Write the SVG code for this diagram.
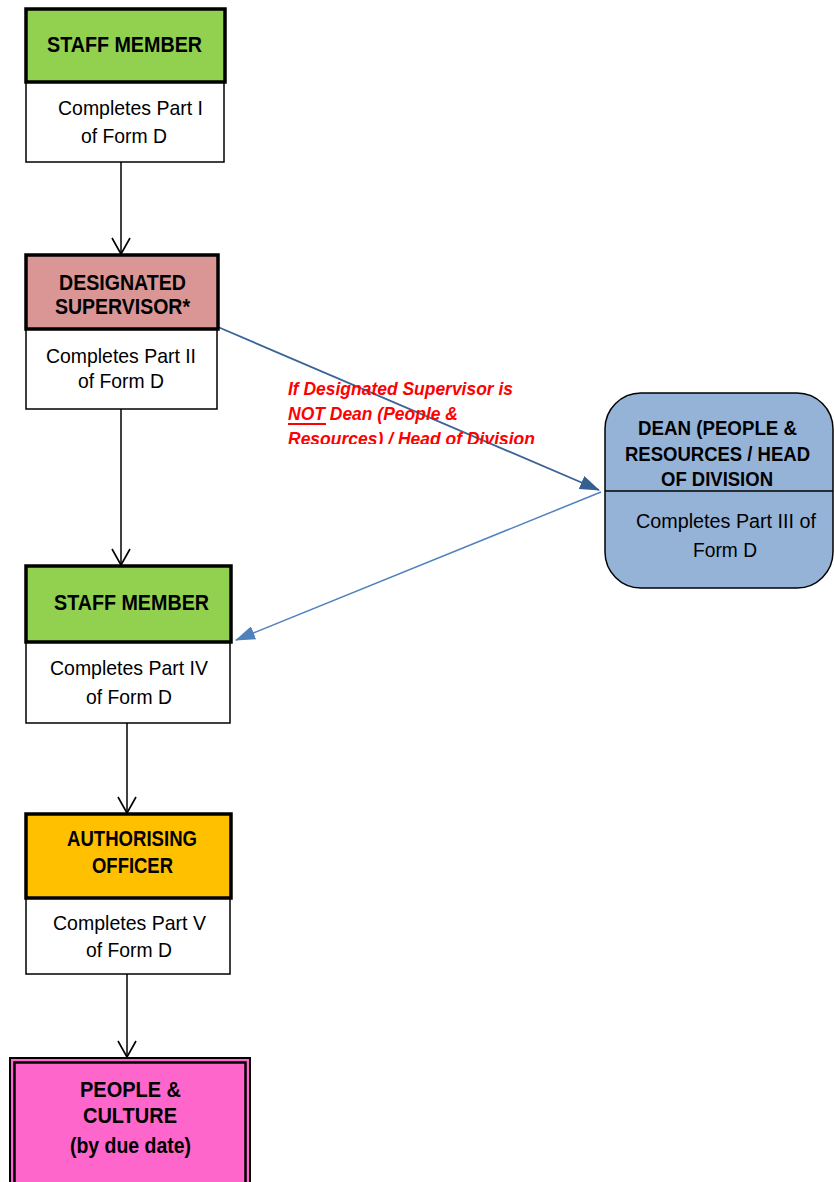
<svg xmlns="http://www.w3.org/2000/svg" width="834" height="1182" viewBox="0 0 834 1182">
<style>
.hd{stroke:#000;stroke-width:3.5}
.bd{fill:#fff;stroke:#000;stroke-width:1.5}
.t{font-family:"Liberation Sans",Arial,sans-serif;font-size:21px;fill:#000;text-anchor:start}
.b{font-weight:bold;font-size:22px}
.dn{font-size:20px}
.red{font-family:"Liberation Sans",Arial,sans-serif;font-size:18px;font-weight:bold;font-style:italic;fill:#FF0000}
.k{fill:none;stroke:#000;stroke-width:1.5}
</style>
<defs>
<marker id="vh" viewBox="0 0 20 20" refX="18" refY="10" markerWidth="20" markerHeight="20" markerUnits="userSpaceOnUse" orient="auto">
<path d="M2,1 L18,10 L2,19" fill="none" stroke="#000" stroke-width="1.6"/>
</marker>
<marker id="bh1" viewBox="0 0 20 14" refX="19" refY="7" markerWidth="20" markerHeight="14" markerUnits="userSpaceOnUse" orient="auto">
<path d="M0,0 L20,7 L0,14 Z" fill="#365F91"/>
</marker>
<marker id="bh2" viewBox="0 0 20 14" refX="19" refY="7" markerWidth="20" markerHeight="14" markerUnits="userSpaceOnUse" orient="auto">
<path d="M0,0 L20,7 L0,14 Z" fill="#4F81BD"/>
</marker>
<clipPath id="clipRed"><rect x="280" y="370" width="280" height="74"/></clipPath>
</defs>

<g id="connectors">
<line class="k" x1="121" y1="162" x2="121" y2="254" marker-end="url(#vh)"/>
<line class="k" x1="121" y1="409" x2="121" y2="565" marker-end="url(#vh)"/>
<line class="k" x1="127" y1="723" x2="127" y2="813" marker-end="url(#vh)"/>
<line class="k" x1="127" y1="974" x2="127" y2="1057" marker-end="url(#vh)"/>
<line x1="218" y1="327" x2="599" y2="490" stroke="#3A6496" stroke-width="1.8" marker-end="url(#bh1)"/>
<line x1="601" y1="492" x2="236" y2="640" stroke="#4F81BD" stroke-width="1.5" marker-end="url(#bh2)"/>
</g>

<g id="condition-label" clip-path="url(#clipRed)">
<text class="red" x="288" y="395" textLength="225" lengthAdjust="spacingAndGlyphs">If Designated Supervisor is</text>
<text class="red" x="288" y="420" textLength="170" lengthAdjust="spacingAndGlyphs">NOT Dean (People &amp;</text>
<line x1="288" y1="424" x2="326" y2="424" stroke="#FF0000" stroke-width="2"/>
<text class="red" x="288" y="445" textLength="247" lengthAdjust="spacingAndGlyphs">Resources) / Head of Division</text>
</g>

<g id="staff-member-1">
<rect class="bd" x="26" y="82" width="198" height="80"/>
<rect class="hd" x="26" y="9" width="199" height="73" fill="#92D050"/>
<text class="t b" x="47" y="52" textLength="155" lengthAdjust="spacingAndGlyphs">STAFF MEMBER</text>
<text class="t" x="58" y="115" textLength="145" lengthAdjust="spacingAndGlyphs">Completes Part I</text>
<text class="t" x="81" y="143" textLength="86" lengthAdjust="spacingAndGlyphs">of Form D</text>
</g>

<g id="designated-supervisor">
<rect class="bd" x="26" y="329" width="191" height="80"/>
<rect class="hd" x="26" y="255" width="192" height="74" fill="#D99694"/>
<text class="t b" x="59" y="290" textLength="127" lengthAdjust="spacingAndGlyphs">DESIGNATED</text>
<text class="t b" x="55" y="314" textLength="135" lengthAdjust="spacingAndGlyphs">SUPERVISOR*</text>
<text class="t" x="46" y="363" textLength="150" lengthAdjust="spacingAndGlyphs">Completes Part II</text>
<text class="t" x="78" y="388" textLength="86" lengthAdjust="spacingAndGlyphs">of Form D</text>
</g>

<g id="dean">
<rect x="605" y="393" width="228" height="195" rx="36" ry="36" fill="#95B3D7" stroke="#000" stroke-width="1.5"/>
<line x1="605" y1="491" x2="833" y2="491" stroke="#000" stroke-width="1.5"/>
<text class="t b dn" x="638" y="435" textLength="159" lengthAdjust="spacingAndGlyphs">DEAN (PEOPLE &amp;</text>
<text class="t b dn" x="625" y="461" textLength="185" lengthAdjust="spacingAndGlyphs">RESOURCES / HEAD</text>
<text class="t b dn" x="661" y="486" textLength="112" lengthAdjust="spacingAndGlyphs">OF DIVISION</text>
<text class="t dn" x="636" y="528" textLength="180" lengthAdjust="spacingAndGlyphs">Completes Part III of</text>
<text class="t" x="693" y="557" textLength="64" lengthAdjust="spacingAndGlyphs">Form D</text>
</g>

<g id="staff-member-2">
<rect class="bd" x="26" y="642" width="204" height="81"/>
<rect class="hd" x="26" y="566" width="205" height="76" fill="#92D050"/>
<text class="t b" x="54" y="610" textLength="155" lengthAdjust="spacingAndGlyphs">STAFF MEMBER</text>
<text class="t" x="50" y="675" textLength="158" lengthAdjust="spacingAndGlyphs">Completes Part IV</text>
<text class="t" x="86" y="704" textLength="86" lengthAdjust="spacingAndGlyphs">of Form D</text>
</g>

<g id="authorising-officer">
<rect class="bd" x="26" y="898" width="204" height="76"/>
<rect class="hd" x="26" y="814" width="205" height="84" fill="#FFC000"/>
<text class="t b" x="67" y="846" textLength="130" lengthAdjust="spacingAndGlyphs">AUTHORISING</text>
<text class="t b" x="92" y="873" textLength="81" lengthAdjust="spacingAndGlyphs">OFFICER</text>
<text class="t" x="53" y="930" textLength="153" lengthAdjust="spacingAndGlyphs">Completes Part V</text>
<text class="t" x="86" y="957" textLength="86" lengthAdjust="spacingAndGlyphs">of Form D</text>
</g>

<g id="people-culture">
<rect x="10" y="1058" width="240" height="130" fill="#FF66CC" stroke="#000" stroke-width="2"/>
<rect x="14.5" y="1062.5" width="231" height="130" fill="none" stroke="#000" stroke-width="2.5"/>
<text class="t b" x="80" y="1097" textLength="101" lengthAdjust="spacingAndGlyphs">PEOPLE &amp;</text>
<text class="t b" x="83" y="1123" textLength="94" lengthAdjust="spacingAndGlyphs">CULTURE</text>
<text class="t b" x="70" y="1153" textLength="121" lengthAdjust="spacingAndGlyphs">(by due date)</text>
</g>
</svg>
